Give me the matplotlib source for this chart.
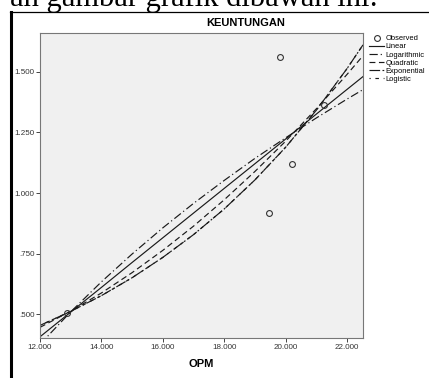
import matplotlib
matplotlib.use('Agg')
import matplotlib.pyplot as plt
from matplotlib.lines import Line2D

plt.rcParams['font.family'] = ['Liberation Sans', 'DejaVu Sans']

# observed points (OPM vs KEUNTUNGAN)
obs_x = [12.88, 19.47, 19.83, 20.21, 21.24]
obs_y = [0.505, 0.916, 1.562, 1.119, 1.364]

# fitted curves at these OPM values
curve_x = [12, 13, 14, 15, 16, 17, 18, 19, 20, 21, 22, 22.52]
linear_y = [0.406, 0.508, 0.610, 0.713, 0.815, 0.917, 1.019, 1.121, 1.223, 1.326, 1.428, 1.481]
log_y = [0.375, 0.509, 0.633, 0.748, 0.856, 0.957, 1.052, 1.143, 1.228, 1.310, 1.388, 1.427]
quad_y = [0.445, 0.512, 0.587, 0.671, 0.763, 0.863, 0.972, 1.089, 1.214, 1.348, 1.490, 1.567]
exp_y = [0.453, 0.511, 0.576, 0.650, 0.734, 0.828, 0.934, 1.054, 1.189, 1.342, 1.514, 1.612]
logistic_y = [0.453, 0.511, 0.576, 0.650, 0.734, 0.828, 0.934, 1.054, 1.189, 1.342, 1.514, 1.612]

x_ticks = [12, 14, 16, 18, 20, 22]
x_labels = ['12.000', '14.000', '16.000', '18.000', '20.000', '22.000']
y_ticks = [0.5, 0.75, 1.0, 1.25, 1.5]
y_labels = ['.500', '.750', '1.000', '1.250', '1.500']

W, H = 429, 378
fig = plt.figure(figsize=(W / 100, H / 100), dpi=100)
ax = fig.add_axes([40 / W, 1 - 338 / H, 323 / W, 305 / H])
ax.set_facecolor('#f0f0f0')

ink = '#1a1a1a'
ax.plot(curve_x, linear_y, color=ink, lw=0.85, ls='-', label='Linear')
ax.plot(curve_x, log_y, color=ink, lw=0.85, ls=(0, (7, 2.5, 1, 2.5)), label='Logarithmic')
ax.plot(curve_x, quad_y, color=ink, lw=0.85, ls=(0, (5, 3)), label='Quadratic')
ax.plot(curve_x, exp_y, color=ink, lw=0.85, ls=(0, (9, 2, 1.5, 2)), label='Exponential')
ax.plot(curve_x, logistic_y, color=ink, lw=0.85, ls=(2, (3, 4)), label='Logistic')
ax.plot(obs_x, obs_y, ls='none', marker='o', ms=4.2, mfc='none', mec='#333333',
        mew=0.8, label='Observed', zorder=5)

ax.set_xlim(12, 22.52)
ax.set_ylim(0.401, 1.661)
ax.set_xticks(x_ticks)
ax.set_xticklabels(x_labels)
ax.set_yticks(y_ticks)
ax.set_yticklabels(y_labels)
ax.tick_params(length=3, width=0.7, color='#444444', labelsize=5.8, labelcolor='#333333', pad=1)
for s in ax.spines.values():
    s.set_color('#777777')
    s.set_linewidth(0.8)

ax.set_xlabel('OPM', fontsize=8, fontweight='bold', labelpad=6)
fig.text(246 / W, 1 - 23 / H, 'KEUNTUNGAN', ha='center', va='center', fontsize=8, fontweight='bold')

# legend order as in the chart
handles, labels = ax.get_legend_handles_labels()
order = [5, 0, 1, 2, 3, 4]
fig.legend([handles[i] for i in order], [labels[i] for i in order],
           loc='upper left', bbox_to_anchor=(369 / W, 1 - 35 / H), frameon=False,
           fontsize=5.4, handlelength=2.0, handletextpad=0.15, labelspacing=0.12,
           borderaxespad=0, borderpad=0)

# frame of the pasted figure and the cut-off sentence above it
fig.add_artist(Line2D([10 / W, 1], [1 - 12 / H, 1 - 12 / H], color='black', lw=0.9))
fig.add_artist(Line2D([11 / W, 11 / W], [0, 1 - 12 / H], color='black', lw=2.2))
fig.text(10 / W, 1 - 6 / H, 'ah gambar grafik dibawah ini:', family='Liberation Serif',
         fontsize=22, ha='left', va='baseline')

fig.savefig('out.png', dpi=100)
